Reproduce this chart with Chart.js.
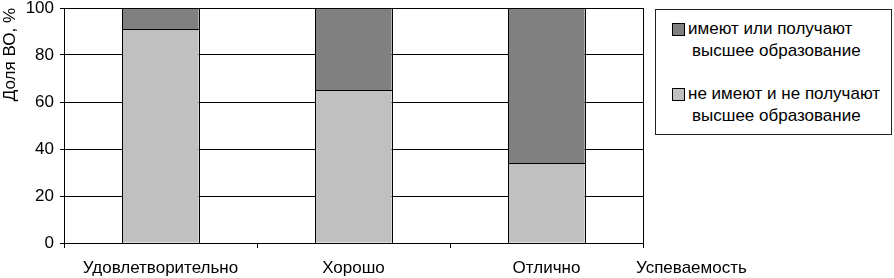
<!DOCTYPE html>
<html>
<head>
<meta charset="utf-8">
<script src="https://cdn.jsdelivr.net/npm/chart.js@4"></script>
<style>
  html, body { margin: 0; padding: 0; background: #fff; }
  #wrap { position: relative; width: 894px; height: 278px; }
  #legend {
    position: absolute; left: 655px; top: 9px; width: 235px; height: 124px;
    border: 1.5px solid #222; background: #fff;
    font-family: "Liberation Sans", Arial, sans-serif; font-size: 17px; color: #000;
  }
  .item { position: absolute; left: 16px; line-height: 22px; }
  .box { position: absolute; left: 0; top: 5px; width: 11px; height: 11px; border: 1px solid #000; }
  .txt { margin-left: 16px; white-space: nowrap; }
  .txt2 { margin-left: 20px; white-space: nowrap; }
</style>
</head>
<body>
<div id="wrap">
  <canvas id="chart" width="894" height="278"></canvas>
  <div id="legend"></div>
</div>
<script>
const categories = ['Удовлетворительно', 'Хорошо', 'Отлично'];
const withoutHigherEd = [91, 65, 34];
const withHigherEd = [9, 35, 66];
const yTicks = [0, 20, 40, 60, 80, 100];
const legendLabels = [
    ['имеют или получают', 'высшее образование'],
    ['не имеют и не получают', 'высшее образование']
];
const darkGray = '#808080';
const lightGray = '#c0c0c0';
const font = { family: '"Liberation Sans", Arial, sans-serif', size: 17 };

// plot frame, bar outlines and the axis title at the right end of the x axis
const framePlugin = {
    id: 'frame',
    afterDatasetsDraw(chart) {
        const { ctx } = chart;
        ctx.save();
        ctx.strokeStyle = '#000';
        ctx.lineWidth = 1;
        chart.data.datasets.forEach((ds, i) => {
            chart.getDatasetMeta(i).data.forEach(bar => {
                const p = bar.getProps(['x', 'y', 'base', 'width'], true);
                const left = Math.round(p.x - p.width / 2) + 0.5;
                const right = Math.round(p.x + p.width / 2) + 0.5;
                const top = Math.round(Math.min(p.y, p.base)) + 0.5;
                const bottom = Math.round(Math.max(p.y, p.base)) + 0.5;
                ctx.strokeRect(left, top, right - left, bottom - top);
            });
        });
        ctx.restore();
    },
    afterDraw(chart) {
        const { ctx, chartArea } = chart;
        ctx.save();
        ctx.strokeStyle = '#000';
        ctx.lineWidth = 1;
        ctx.beginPath();
        ctx.moveTo(Math.round(chartArea.right) + 0.5, chartArea.top);
        ctx.lineTo(Math.round(chartArea.right) + 0.5, chartArea.bottom + 5);
        ctx.stroke();
        ctx.fillStyle = '#000';
        ctx.font = `${font.size}px ${font.family}`;
        ctx.textBaseline = 'middle';
        ctx.textAlign = 'left';
        ctx.fillText('Успеваемость', chartArea.right - 7, 268);
        ctx.restore();
    }
};

new Chart(document.getElementById('chart'), {
    type: 'bar',
    data: {
        labels: categories,
        datasets: [
            {
                label: 'не имеют и не получают высшее образование',
                data: withoutHigherEd,
                backgroundColor: lightGray,
                borderWidth: 0
            },
            {
                label: 'имеют или получают высшее образование',
                data: withHigherEd,
                backgroundColor: darkGray,
                borderWidth: 0
            }
        ]
    },
    options: {
        responsive: false,
        animation: false,
        layout: { padding: { top: 8, right: 251, left: 0, bottom: 0 } },
        datasets: { bar: { categoryPercentage: 1, barPercentage: 0.395 } },
        plugins: { legend: { display: false }, tooltip: { enabled: false } },
        scales: {
            x: {
                stacked: true,
                grid: { drawOnChartArea: false, drawTicks: true, tickLength: 5, color: '#000' },
                border: { display: true, color: '#000' },
                ticks: { color: '#000', font: font, padding: 10, maxRotation: 0 },
                afterFit(axis) {
                    axis.height = 35;
                    axis.paddingLeft = 0;
                    axis.paddingRight = 0;
                }
            },
            y: {
                stacked: true,
                min: 0,
                max: 100,
                afterBuildTicks(axis) { axis.ticks = yTicks.map(v => ({ value: v })); },
                grid: { color: '#000', tickLength: 4 },
                border: { display: true, color: '#000' },
                ticks: { color: '#000', font: font, padding: 6 },
                title: {
                    display: true,
                    text: 'Доля ВО, %',
                    align: 'end',
                    color: '#000',
                    font: font,
                    padding: 0
                },
                afterFit(axis) {
                    axis.width = 64;
                    axis.paddingTop = 0;
                    axis.paddingBottom = 0;
                }
            }
        }
    },
    plugins: [framePlugin]
});

const legend = document.getElementById('legend');
const legendColors = [darkGray, lightGray];
const legendTops = [8, 73];
legendLabels.forEach((lines, i) => {
    const item = document.createElement('div');
    item.className = 'item';
    item.style.top = legendTops[i] + 'px';
    item.innerHTML = `<div class="box" style="background:${legendColors[i]}"></div>
        <div class="txt">${lines[0]}</div><div class="txt2">${lines[1]}</div>`;
    legend.appendChild(item);
});
</script>
</body>
</html>
